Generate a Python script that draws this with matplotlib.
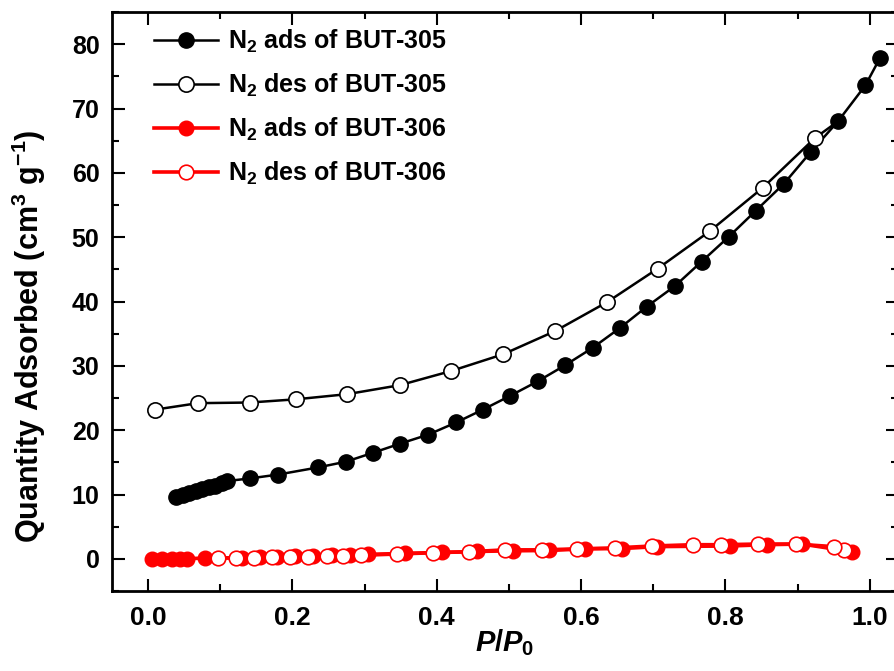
import matplotlib
matplotlib.use("Agg")
import matplotlib.pyplot as plt
from matplotlib.ticker import MultipleLocator

plt.rcParams['font.family'] = 'Liberation Sans'
plt.rcParams['font.weight'] = 'bold'
plt.rcParams['mathtext.fontset'] = 'custom'
plt.rcParams['mathtext.rm'] = 'Liberation Sans:bold'
plt.rcParams['mathtext.it'] = 'Liberation Sans:bold:italic'
plt.rcParams['mathtext.bf'] = 'Liberation Sans:bold'
plt.rcParams['mathtext.default'] = 'rm'

# BUT-305 adsorption branch
ads305_x = [0.039, 0.048, 0.057, 0.066, 0.075, 0.084, 0.093, 0.102, 0.110,
            0.141, 0.180, 0.235, 0.274, 0.312, 0.349, 0.388, 0.427, 0.464,
            0.501, 0.540, 0.578, 0.616, 0.654, 0.691, 0.730, 0.767, 0.805,
            0.842, 0.881, 0.918, 0.956, 0.994, 1.014]
ads305_y = [9.6, 9.9, 10.2, 10.5, 10.8, 11.1, 11.4, 11.8, 12.1,
            12.5, 13.1, 14.2, 15.1, 16.5, 17.9, 19.3, 21.2, 23.2,
            25.3, 27.6, 30.1, 32.8, 35.9, 39.2, 42.4, 46.2, 50.1,
            54.1, 58.3, 63.2, 68.0, 73.6, 77.8]

# BUT-305 desorption branch (starts from the adsorption point at 0.956)
des305_x = [0.956, 0.924, 0.852, 0.778, 0.706, 0.636, 0.564, 0.492, 0.420,
            0.349, 0.276, 0.205, 0.141, 0.069, 0.010]
des305_y = [68.0, 65.4, 57.7, 50.9, 45.1, 39.9, 35.4, 31.8, 29.2,
            27.0, 25.6, 24.8, 24.3, 24.2, 23.2]

# BUT-306 adsorption branch
ads306_x = [0.006, 0.019, 0.033, 0.044, 0.054, 0.079, 0.130, 0.155, 0.179,
            0.204, 0.229, 0.255, 0.280, 0.305, 0.356, 0.407, 0.456, 0.506,
            0.555, 0.605, 0.657, 0.705, 0.806, 0.857, 0.906, 0.976]
ads306_y = [0.0, 0.0, 0.0, 0.0, 0.05, 0.1, 0.2, 0.3, 0.35,
            0.4, 0.5, 0.55, 0.6, 0.7, 0.85, 1.0, 1.15, 1.25,
            1.3, 1.55, 1.6, 1.9, 2.0, 2.2, 2.3, 1.1]

# BUT-306 desorption branch (starts from the last adsorption point)
des306_x = [0.976, 0.965, 0.950, 0.898, 0.845, 0.794, 0.755, 0.699, 0.647,
            0.594, 0.546, 0.494, 0.445, 0.395, 0.345, 0.295, 0.270, 0.248,
            0.222, 0.197, 0.172, 0.147, 0.122, 0.097]
des306_y = [1.1, 1.4, 1.9, 2.3, 2.3, 2.2, 2.2, 2.0, 1.7,
            1.55, 1.4, 1.4, 1.1, 0.95, 0.75, 0.55, 0.45, 0.4,
            0.35, 0.3, 0.25, 0.2, 0.15, 0.1]

fig = plt.figure(figsize=(8.94, 6.71), dpi=100)
ax = fig.add_axes([0.1253, 0.1192, 0.879, 0.8629])

ax.plot(ads305_x, ads305_y, '-o', color='black', lw=1.8, ms=11,
        mfc='black', mec='black', label='N$_2$ ads of BUT-305')
ax.plot(des305_x, des305_y, '-o', color='black', lw=1.8, ms=11,
        mfc='white', mec='black', mew=1.2, markevery=slice(1, None),
        label='N$_2$ des of BUT-305')
ax.plot(ads306_x, ads306_y, '-o', color='red', lw=2.6, ms=10.5,
        mfc='red', mec='red', label='N$_2$ ads of BUT-306')
ax.plot(des306_x, des306_y, '-o', color='red', lw=2.6, ms=10.5,
        mfc='white', mec='red', mew=1.2, markevery=slice(1, None),
        label='N$_2$ des of BUT-306')

ax.set_xlim(-0.05, 1.039)
ax.set_ylim(-5, 85)
ax.xaxis.set_major_locator(MultipleLocator(0.2))
ax.xaxis.set_minor_locator(MultipleLocator(0.1))
ax.yaxis.set_major_locator(MultipleLocator(10))
ax.yaxis.set_minor_locator(MultipleLocator(5))
ax.tick_params(which='both', direction='in', top=True, right=True, width=1.5)
ax.tick_params(which='major', length=9)
ax.tick_params(which='minor', length=5)
ax.tick_params(axis='x', which='major', labelsize=19, pad=11)
ax.tick_params(axis='y', which='major', labelsize=18, pad=9)
for lab in ax.get_xticklabels() + ax.get_yticklabels():
    lab.set_fontweight('bold')
for s in ax.spines.values():
    s.set_linewidth(2)

ax.set_xlabel('$\\mathit{P/P}_0$', fontsize=21)
ax.xaxis.set_label_coords(0.5, -0.062)
ax.set_ylabel('Quantity Adsorbed (cm$^3$ g$^{-1}$)', fontsize=22,
              fontweight='bold')
ax.yaxis.set_label_coords(-0.082, 0.44)

leg = ax.legend(loc='upper left', frameon=False,
                prop={'weight': 'bold', 'size': 18},
                handlelength=2.55, handletextpad=0.4, labelspacing=0.67,
                borderaxespad=0.0, bbox_to_anchor=(0.041, 0.99))

fig.savefig('out.png', dpi=100)
